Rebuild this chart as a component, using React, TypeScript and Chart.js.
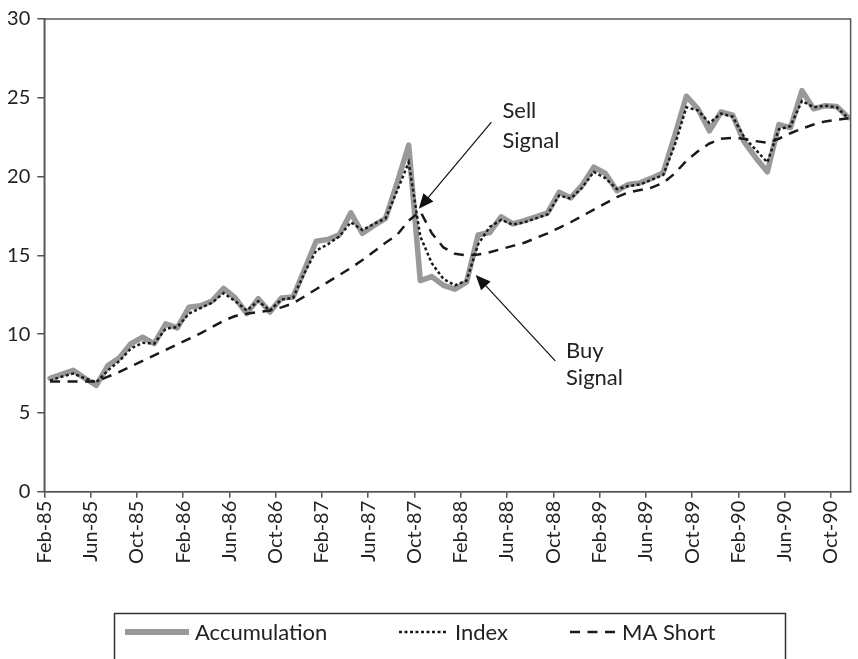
import React, { useEffect, useRef } from "react";
import { Chart, registerables } from "chart.js";

Chart.register(...registerables);

const months = [
  "Feb-85","Mar-85","Apr-85","May-85","Jun-85","Jul-85","Aug-85","Sep-85","Oct-85","Nov-85","Dec-85",
  "Jan-86","Feb-86","Mar-86","Apr-86","May-86","Jun-86","Jul-86","Aug-86","Sep-86","Oct-86","Nov-86","Dec-86",
  "Jan-87","Feb-87","Mar-87","Apr-87","May-87","Jun-87","Jul-87","Aug-87","Sep-87","Oct-87","Nov-87","Dec-87",
  "Jan-88","Feb-88","Mar-88","Apr-88","May-88","Jun-88","Jul-88","Aug-88","Sep-88","Oct-88","Nov-88","Dec-88",
  "Jan-89","Feb-89","Mar-89","Apr-89","May-89","Jun-89","Jul-89","Aug-89","Sep-89","Oct-89","Nov-89","Dec-89",
  "Jan-90","Feb-90","Mar-90","Apr-90","May-90","Jun-90","Jul-90","Aug-90","Sep-90","Oct-90","Nov-90",
];

const tickLabels = [
  "Feb-85","Jun-85","Oct-85","Feb-86","Jun-86","Oct-86","Feb-87","Jun-87","Oct-87",
  "Feb-88","Jun-88","Oct-88","Feb-89","Jun-89","Oct-89","Feb-90","Jun-90","Oct-90",
];

const accumulation = [
  7.2, 7.45, 7.7, 7.2, 6.75, 8.0, 8.5, 9.4, 9.8, 9.4, 10.65,
  10.4, 11.7, 11.8, 12.1, 12.9, 12.3, 11.3, 12.25, 11.4, 12.3, 12.35, 14.1,
  15.9, 16.0, 16.3, 17.7, 16.4, 16.9, 17.35, 19.6, 22.0, 13.4, 13.65, 13.1,
  12.85, 13.3, 16.3, 16.45, 17.45, 17.0, 17.2, 17.45, 17.7, 19.0, 18.65, 19.45,
  20.6, 20.2, 19.1, 19.5, 19.6, 19.9, 20.25, 22.6, 25.1, 24.3, 22.9, 24.1,
  23.9, 22.2, 21.2, 20.3, 23.3, 23.1, 25.45, 24.3, 24.5, 24.45, 23.75,
];

const indexSeries = [
  7.05, 7.3, 7.5, 7.2, 6.95, 7.7, 8.3, 9.1, 9.45, 9.4, 10.35,
  10.45, 11.3, 11.65, 12.0, 12.6, 12.1, 11.5, 12.1, 11.5, 12.2, 12.3, 13.9,
  15.3, 15.7, 16.2, 17.1, 16.6, 17.0, 17.35, 19.1, 20.9, 16.2, 14.5, 13.5,
  13.1, 13.4, 15.7, 16.8, 17.25, 16.95, 17.1, 17.35, 17.6, 18.8, 18.6, 19.3,
  20.3, 19.9, 19.2, 19.4, 19.5, 19.8, 20.1, 22.0, 24.4, 24.2, 23.4, 24.0,
  23.8, 22.5, 21.7, 20.9, 23.0, 23.2, 24.8, 24.4, 24.5, 24.4, 23.7,
];

const maShort = [
  7.0, 7.0, 7.0, 7.0, 7.0, 7.3, 7.6, 7.95, 8.3, 8.65, 9.0,
  9.35, 9.7, 10.05, 10.45, 10.85, 11.15, 11.3, 11.4, 11.5, 11.7, 11.95, 12.4,
  12.85, 13.3, 13.75, 14.2, 14.7, 15.25, 15.8, 16.3, 17.2, 17.8, 16.4, 15.5,
  15.1, 15.0, 15.05, 15.2, 15.4, 15.6, 15.8, 16.1, 16.4, 16.75, 17.1, 17.5,
  17.9, 18.3, 18.7, 19.0, 19.15, 19.3, 19.6, 20.2, 21.0, 21.6, 22.1, 22.4,
  22.45, 22.4, 22.25, 22.15, 22.4, 22.75, 23.05, 23.3, 23.5, 23.6, 23.7,
];

const FONT = "Lato, 'Open Sans', sans-serif";
const TEXT = "#222";
const AXIS = "#555";
const GREY = "#999999";

// annotation anchors in data units (month index, value)
const sellArrow = { from: [38.65, 23.45], to: [32.37, 17.95] };
const buyArrow = { from: [44.17, 8.3], to: [37.29, 13.76] };
const sellText = { at: [39.6, 23.45], lines: ["Sell", "Signal"] };
const buyText = { at: [45.1, 8.0], lines: ["Buy", "Signal"] };

const toPoints = (arr: number[]) => arr.map((v, i) => ({ x: i + 0.5, y: v }));

function drawArrow(ctx: CanvasRenderingContext2D, x1: number, y1: number, x2: number, y2: number) {
  const ang = Math.atan2(y2 - y1, x2 - x1);
  const len = 15;
  const hw = 6.5;
  ctx.strokeStyle = "#111";
  ctx.fillStyle = "#111";
  ctx.lineWidth = 1.2;
  ctx.setLineDash([]);
  ctx.beginPath();
  ctx.moveTo(x1, y1);
  ctx.lineTo(x2 - Math.cos(ang) * len * 0.8, y2 - Math.sin(ang) * len * 0.8);
  ctx.stroke();
  const bx = x2 - Math.cos(ang) * len;
  const by = y2 - Math.sin(ang) * len;
  ctx.beginPath();
  ctx.moveTo(x2, y2);
  ctx.lineTo(bx + Math.sin(ang) * hw, by - Math.cos(ang) * hw);
  ctx.lineTo(bx - Math.sin(ang) * hw, by + Math.cos(ang) * hw);
  ctx.closePath();
  ctx.fill();
}

const overlayPlugin = {
  id: "overlay",
  afterDraw(chart: any) {
    const { ctx, chartArea: ca, scales } = chart;
    const xs = scales.x;
    const ys = scales.y;
    ctx.save();
    // plot border
    ctx.strokeStyle = AXIS;
    ctx.lineWidth = 1.5;
    ctx.setLineDash([]);
    ctx.strokeRect(ca.left, ca.top, ca.right - ca.left, ca.bottom - ca.top);

    // arrows
    const px = (p: number[]) => [xs.getPixelForValue(p[0]), ys.getPixelForValue(p[1])];
    const s1 = px(sellArrow.from), s2 = px(sellArrow.to);
    drawArrow(ctx, s1[0], s1[1], s2[0], s2[1]);
    const b1 = px(buyArrow.from), b2 = px(buyArrow.to);
    drawArrow(ctx, b1[0], b1[1], b2[0], b2[1]);

    // annotation texts
    ctx.fillStyle = TEXT;
    ctx.font = `22px ${FONT}`;
    ctx.textAlign = "left";
    ctx.textBaseline = "alphabetic";
    const st = px(sellText.at);
    ctx.fillText(sellText.lines[0], st[0], st[1] - 4);
    ctx.fillText(sellText.lines[1], st[0], st[1] + 26);
    const bt = px(buyText.at);
    ctx.fillText(buyText.lines[0], bt[0], bt[1] - 8);
    ctx.fillText(buyText.lines[1], bt[0], bt[1] + 19);

    // legend
    const top = 613;
    const midY = 632;
    ctx.strokeStyle = "#333";
    ctx.lineWidth = 1.5;
    ctx.strokeRect(114.5, top + 0.5, 671, 80);
    ctx.font = `22px ${FONT}`;
    ctx.textBaseline = "middle";
    ctx.fillStyle = TEXT;
    const items = [
      { label: "Accumulation", color: GREY, width: 6, dash: [] as number[], x0: 125, x1: 189, tx: 195 },
      { label: "Index", color: "#1a1a1a", width: 2.5, dash: [3, 2.5], x0: 399, x1: 448, tx: 455 },
      { label: "MA Short", color: "#1a1a1a", width: 2.5, dash: [10, 7.5], x0: 570, x1: 615, tx: 622 },
    ];
    for (const it of items) {
      ctx.strokeStyle = it.color;
      ctx.lineWidth = it.width;
      ctx.setLineDash(it.dash);
      ctx.beginPath();
      ctx.moveTo(it.x0, midY);
      ctx.lineTo(it.x1, midY);
      ctx.stroke();
      ctx.setLineDash([]);
      ctx.fillText(it.label, it.tx, midY + 1);
    }
    ctx.restore();
  },
};

export default function App() {
  const ref = useRef<HTMLCanvasElement | null>(null);

  useEffect(() => {
    document.body.style.margin = "0";
    const canvas = ref.current;
    if (!canvas) return;
    const chart = new Chart(canvas, {
      type: "line",
      data: {
        datasets: [
          {
            label: "Accumulation",
            data: toPoints(accumulation),
            borderColor: GREY,
            borderWidth: 5.5,
            pointRadius: 0,
            tension: 0,
            borderJoinStyle: "round",
            borderCapStyle: "round",
            order: 3,
          },
          {
            label: "Index",
            data: toPoints(indexSeries),
            borderColor: "#1a1a1a",
            borderWidth: 2.5,
            borderDash: [3, 2.5],
            pointRadius: 0,
            tension: 0,
            order: 2,
          },
          {
            label: "MA Short",
            data: toPoints(maShort),
            borderColor: "#1a1a1a",
            borderWidth: 2.5,
            borderDash: [10, 7.5],
            pointRadius: 0,
            tension: 0,
            order: 1,
          },
        ],
      },
      options: {
        responsive: false,
        animation: false,
        devicePixelRatio: 1,
        layout: { padding: { top: 15.7, right: 2.3, left: 0, bottom: 0 } },
        plugins: { legend: { display: false }, tooltip: { enabled: false } },
        scales: {
          x: {
            type: "linear",
            min: 0,
            max: 69.7,
            afterBuildTicks: (s: any) => {
              s.ticks = tickLabels.map((l) => ({ value: months.indexOf(l) }));
            },
            afterFit: (s: any) => {
              s.height = 167.3;
            },
            ticks: {
              callback: (v: any) => months[Number(v)] ?? "",
              autoSkip: false,
              maxRotation: 90,
              minRotation: 90,
              padding: 3,
              color: TEXT,
              font: { family: FONT, size: 20 },
            },
            grid: { drawOnChartArea: false, drawTicks: true, tickLength: 6, color: AXIS, lineWidth: 1.5 },
            border: { display: true, color: AXIS, width: 1.5 },
          },
          y: {
            min: 0,
            max: 30,
            afterFit: (s: any) => {
              s.width = 44.3;
            },
            ticks: {
              stepSize: 5,
              padding: 7,
              color: TEXT,
              font: { family: FONT, size: 20 },
            },
            grid: { drawOnChartArea: false, drawTicks: true, tickLength: 7, color: AXIS, lineWidth: 1.5 },
            border: { display: true, color: AXIS, width: 1.5 },
          },
        },
      },
      plugins: [overlayPlugin],
    } as any);
    return () => chart.destroy();
  }, []);

  return (
    <div style={{ width: 858, height: 659 }}>
      <canvas ref={ref} width={858} height={659} style={{ display: "block" }} />
    </div>
  );
}
